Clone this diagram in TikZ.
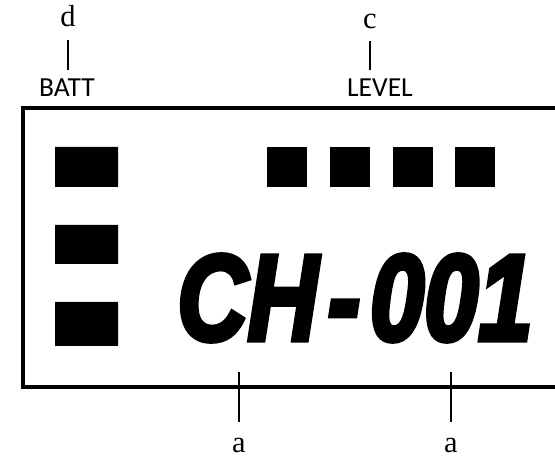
\documentclass[tikz,border=0pt]{standalone}
\usepackage{fontspec}
\setmainfont{Liberation Serif}
\newfontfamily\tagfont{Carlito}
\newfontface\lcdfont[FakeBold=4.5]{Liberation Sans Bold Italic}
\usetikzlibrary{positioning}
\tikzset{
  lbl/.style={font=\fontsize{26}{26}\selectfont, inner sep=0pt, text height=16pt, text depth=0pt},
  tag/.style={font=\tagfont\fontsize{23.5}{23.5}\selectfont, inner sep=0pt, text height=14.5pt, text depth=0pt},
  lead/.style={line width=1.2pt},
  frame/.style={line width=2.6pt}
}
\begin{document}
\begin{tikzpicture}[x=0.03cm,y=-0.03cm]
\clip (0,0) rectangle (555,459);
% display frame, right side runs off the page
\draw[frame] (23,108) rectangle (600,387);
% battery bars
\fill (55,147) rectangle (118,187)
(55,225) rectangle (118,264)
(55,302) rectangle (118,346);
% level bars
\foreach \x in {267,330,393,455}
  \fill (\x,147) rectangle ++(40,40);
\node (ch) at (355,298) {\lcdfont\fontsize{104}{104}\selectfont\scalebox{0.8}[1]{CH\kern0.1em-\kern0.1em001}};
\node[lbl, anchor=base] (d) at (68,27) {d};
\node[tag, anchor=base] (batt) at (67,97) {BATT};
\node[lbl, anchor=base] (c) at (370,29) {c};
\node[tag, anchor=base] (level) at (380,97) {LEVEL};
\node[lbl, anchor=base] (a1) at (239,453) {a};
\node[lbl, anchor=base] (a2) at (451,453) {a};
\coordinate (t1) at (239,372);
\coordinate (t2) at (451,372);
\draw[lead, shorten <=11pt, shorten >=8.5pt] (d.south) -- (d.south |- batt.north);
\draw[lead, shorten <=10pt, shorten >=8.5pt] (c.south) -- (c.south |- level.north);
\draw[lead, shorten >=10pt] (t1) -- (t1 |- a1.north);
\draw[lead, shorten >=10pt] (t2) -- (t2 |- a2.north);
\end{tikzpicture}
\end{document}
